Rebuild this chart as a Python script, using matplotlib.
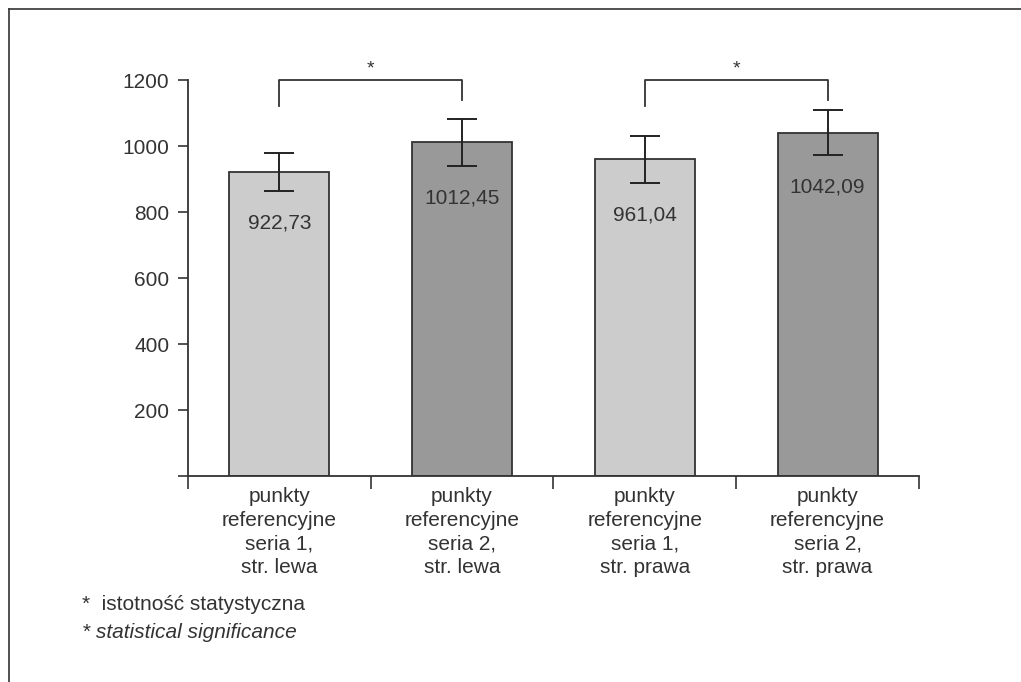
import numpy as np
import matplotlib
matplotlib.use("Agg")
import matplotlib.pyplot as plt
from matplotlib.lines import Line2D

plt.rcParams["font.family"] = ["Liberation Sans", "DejaVu Sans"]

categories = [
    "punkty\nreferencyjne\nseria 1,\nstr. lewa",
    "punkty\nreferencyjne\nseria 2,\nstr. lewa",
    "punkty\nreferencyjne\nseria 1,\nstr. prawa",
    "punkty\nreferencyjne\nseria 2,\nstr. prawa",
]
values = [922.73, 1012.45, 961.04, 1042.09]
errors = [58, 72, 72, 67]
value_labels = ["922,73", "1012,45", "961,04", "1042,09"]
bar_colors = ["#cccccc", "#999999", "#cccccc", "#999999"]
yticks = [0, 200, 400, 600, 800, 1000, 1200]
ytick_labels = ["", "200", "400", "600", "800", "1000", "1200"]

# significance brackets: (left bar, right bar, left leg bottom, right leg bottom, top)
brackets = [(0, 1, 1122, 1141, 1202), (2, 3, 1122, 1141, 1202)]

TXT = "#333333"

fig = plt.figure(figsize=(10.21, 6.82), dpi=100)
ax = fig.add_axes([0.1841, 0.302, 0.716, 0.609])

x = np.arange(len(values))
ax.bar(x, values, width=0.547, color=bar_colors, edgecolor="#333333", linewidth=1.3, zorder=2)
ax.errorbar(x, values, yerr=errors, fmt="none", ecolor="#222222", elinewidth=1.4,
            capsize=11, capthick=1.4, zorder=3)

for xi, v, e, lab in zip(x, values, errors, value_labels):
    ax.text(xi, v - e - 97, lab, ha="center", va="center", fontsize=15, color=TXT, zorder=4)

for a, b, ya, yb, top in brackets:
    ax.plot([a, a, b, b], [ya, top, top, yb], color="#333333", lw=1.3, clip_on=False)
    ax.text((a + b) / 2, top + 34, "*", ha="center", va="center", fontsize=14, color=TXT)

ax.set_xlim(-0.5, len(values) - 0.5)
ax.set_ylim(0, 1260)
ax.set_yticks(yticks)
ax.set_yticklabels(ytick_labels, fontsize=15, color=TXT)
ax.spines["left"].set_bounds(0, 1200)
ax.spines["top"].set_visible(False)
ax.spines["right"].set_visible(False)
for s in ["left", "bottom"]:
    ax.spines[s].set_color("#333333")
    ax.spines[s].set_linewidth(1.3)
ax.tick_params(axis="y", direction="out", length=7.5, width=1.2, color="#333333", pad=6)

ax.set_xticks(np.arange(-0.5, len(values), 1.0))
ax.set_xticklabels([])
ax.tick_params(axis="x", which="major", direction="out", length=9, width=1.2, color="#333333")
ax.set_xticks(x, minor=True)
ax.set_xticklabels(categories, minor=True, fontsize=15, color=TXT, linespacing=1.3)
ax.tick_params(axis="x", which="minor", length=0, pad=8)

# frame lines (top and left edge)
fig.add_artist(Line2D([9 / 1021, 1.0], [1 - 9 / 682, 1 - 9 / 682], transform=fig.transFigure,
                      color="#333333", lw=1.2))
fig.add_artist(Line2D([9 / 1021, 9 / 1021], [0, 1 - 9 / 682], transform=fig.transFigure,
                      color="#333333", lw=1.2))

fig.text(82 / 1021, 1 - 605 / 682, "*  istotność statystyczna", fontsize=15, color=TXT,
         va="center", ha="left")
fig.text(82 / 1021, 1 - 633 / 682, "* statistical significance", fontsize=15, color=TXT,
         va="center", ha="left", style="italic")

fig.savefig("out.png", dpi=100)
